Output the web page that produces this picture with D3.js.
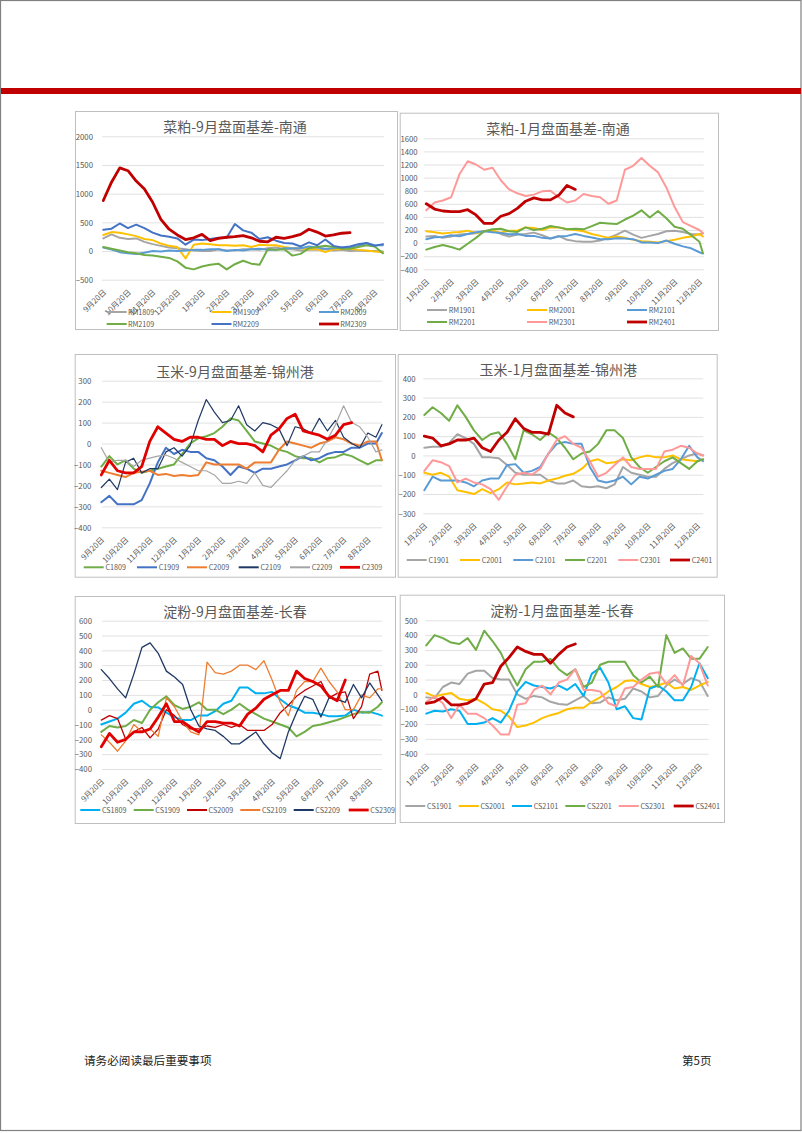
<!DOCTYPE html>
<html><head><meta charset="utf-8">
<script src="https://cdn.jsdelivr.net/npm/d3@7"></script>
<style>
body{margin:0;background:#fff}
svg{display:block}
text{font-family:"Noto Sans CJK SC","Noto Sans",sans-serif}
</style>
</head><body>
<svg id="page" width="802" height="1133"></svg>
<script>
// ---------- tick labels ----------
const ticksSep = ["9月20日","10月20日","11月20日","12月20日","1月20日","2月20日","3月20日","4月20日","5月20日","6月20日","7月20日","8月20日"];
const ticksJan = ["1月20日","2月20日","3月20日","4月20日","5月20日","6月20日","7月20日","8月20日","9月20日","10月20日","11月20日","12月20日"];

// ---------- data (one value every ~10 days) ----------
// 菜粕-9月盘面基差-南通
const RM1809 = [220,290,230,210,220,160,120,90,60,50,30,10,0,0,30,10,10,30,30,20,50,60,30,30,10,20,20,30,10,20,0,10,0,0,-10];
const RM1909 = [280,330,320,290,260,210,190,130,90,70,-130,110,130,120,100,100,90,100,70,110,100,100,70,50,50,30,30,-20,30,30,40,20,10,-10,-20];
const RM2009 = [60,25,-20,-40,-50,-30,0,-10,10,0,10,20,20,30,30,0,20,10,30,40,20,20,50,50,50,80,60,40,50,60,60,90,140,100,100];
const RM2109 = [70,40,10,-20,-40,-70,-80,-100,-120,-180,-290,-320,-270,-240,-220,-320,-230,-170,-220,-240,30,20,30,-80,-50,50,70,90,70,40,40,70,100,80,-40];
const RM2209 = [370,390,480,400,460,400,320,270,250,220,110,200,190,210,230,230,470,360,320,210,240,180,140,130,80,150,100,200,90,60,80,120,140,90,120];
const RM2309 = [880,1200,1450,1400,1220,1080,850,550,380,280,200,230,290,180,220,240,250,270,230,170,160,240,220,250,290,380,330,260,280,310,320];
// 菜粕-1月盘面基差-南通
const RM1901 = [100,110,80,100,130,140,150,180,190,140,100,130,140,160,120,70,110,50,30,20,20,40,80,130,190,130,80,110,140,180,190,170,140,130,150];
const RM2001 = [180,165,145,160,170,190,155,185,190,160,190,190,240,230,200,240,240,210,200,180,140,110,80,100,80,50,30,20,10,30,50,80,100,140,100];
const RM2101 = [60,90,95,120,105,140,165,180,165,155,135,140,110,110,80,70,100,110,140,110,85,60,60,75,70,60,10,10,0,40,-10,-50,-80,-140,-160];
const RM2201 = [-100,-60,-30,-60,-100,-10,80,180,210,220,180,170,240,200,220,260,240,210,220,210,260,310,300,290,360,420,500,390,490,380,250,220,120,20,-150];
const RM2301 = [500,620,650,700,1050,1250,1200,1120,1150,960,820,760,720,740,790,800,700,620,650,750,720,700,600,650,1120,1180,1300,1180,1080,850,550,320,260,200,150];
const RM2401 = [600,520,490,480,480,510,430,300,300,410,450,530,640,690,660,660,730,880,820];
// 玉米-9月盘面基差-锦州港
const C1809 = [-110,-60,-100,-80,-120,-140,-130,-120,-110,-100,-50,0,25,35,50,80,120,110,60,10,0,-10,-30,-40,-60,-70,-70,-90,-70,-65,-50,-60,-80,-100,-80,-80];
const C1909 = [-280,-250,-290,-290,-290,-270,-190,-90,-20,-50,-30,-40,-40,-70,-80,-110,-150,-110,-120,-140,-120,-120,-110,-100,-80,-60,-80,-70,-50,-40,-40,-20,-20,0,0,50];
const C2009 = [-130,-140,-150,-160,-140,-135,-130,-150,-145,-155,-150,-155,-150,-90,-100,-100,-100,-100,-120,-90,-90,-90,-30,10,0,-10,-20,0,10,30,20,0,-10,10,10,-80];
const C2109 = [-210,-170,-220,-90,-70,-140,-120,-120,-40,-20,-60,-10,110,210,150,100,110,180,90,60,100,90,70,-10,80,70,50,120,60,110,30,0,-20,50,30,90];
const C2209 = [-20,-90,-80,-80,-110,-80,-70,-60,-55,-70,-90,-110,-130,-130,-150,-190,-190,-180,-190,-140,-200,-210,-170,-130,-80,-60,-40,-40,20,90,180,100,80,30,-40,-30];
const C2309 = [-150,-80,-130,-140,-140,-110,10,80,50,20,10,30,30,20,20,-10,10,0,0,-10,-40,40,70,120,140,60,50,40,20,40,90,100];
// 玉米-1月盘面基差-锦州港
const C1901 = [40,45,45,65,110,90,60,-10,-10,-15,-50,-90,-100,-100,-100,-130,-145,-145,-130,-160,-165,-160,-170,-150,-60,-90,-100,-110,-110,-70,-40,-20,0,10,0];
const C2001 = [-90,-100,-90,-110,-180,-190,-200,-175,-195,-175,-140,-150,-145,-140,-145,-130,-120,-105,-95,-70,-30,-20,-40,-35,-20,-25,-10,0,-10,-10,0,-20,-25,-30,-20];
const C2101 = [-180,-110,-130,-130,-130,-140,-160,-130,-120,-120,-50,-45,-90,-80,-60,10,60,70,60,60,-60,-130,-140,-130,-110,-150,-110,-120,-100,-80,-70,-20,50,-10,-30];
const C2201 = [210,250,220,180,260,200,130,80,110,120,60,-20,130,110,80,120,90,40,-20,10,20,60,130,130,90,-10,-60,-90,-60,-30,-10,-40,-70,-30,-20];
const C2301 = [-80,-25,-35,-55,-140,-120,-140,-150,-175,-230,-160,-100,-90,-100,-70,10,80,100,60,40,-30,-110,-90,-50,-10,-60,-70,-70,-70,20,30,50,40,10,0];
const C2401 = [100,90,50,60,80,80,90,40,20,80,120,190,140,120,120,110,260,220,200];
// 淀粉-9月盘面基差-长春
const CS1809 = [-100,-80,-60,-20,40,60,20,15,-20,-50,-70,-70,-40,-40,-10,40,60,150,150,110,110,120,70,30,10,-20,-20,-30,-45,-45,-40,0,-20,-15,-30,-40];
const CS1909 = [-150,-110,-120,-110,-70,-90,0,50,90,30,5,20,50,0,0,-30,0,40,0,-30,-60,-80,-100,-120,-180,-150,-110,-100,-85,-70,-50,-30,-15,-20,20,50];
const CS2009 = [-70,-40,-60,-200,-150,-120,-190,-130,0,-40,-100,-130,-130,-110,-120,-100,-120,-100,-140,-140,-140,-100,-20,30,90,130,160,190,80,110,120,-60,20,240,260,130];
const CS2109 = [-170,-220,-280,-210,-100,-150,-130,-180,80,20,-80,-150,-170,320,250,240,260,300,300,270,330,200,50,-40,130,190,190,280,190,120,0,0,100,80,140,140];
const CS2209 = [270,210,140,80,240,420,450,380,260,220,170,0,-110,-130,-140,-180,-230,-230,-190,-150,-230,-290,-330,-150,-20,90,70,-50,80,70,50,170,80,180,100,60];
const CS2309 = [-250,-160,-220,-200,-150,-150,-130,-50,40,-80,-80,-120,-150,-80,-80,-90,-90,-110,-30,10,70,100,130,130,260,210,190,160,90,60,200];
// 淀粉-1月盘面基差-长春
const CS1901 = [-20,-25,50,80,70,140,160,160,110,100,100,0,-30,-10,-20,-50,-65,-70,-40,-10,-60,-55,-20,-40,-30,40,20,-20,-10,60,100,70,110,90,-10];
const CS2001 = [10,-15,0,10,-30,-40,-30,-60,-100,-110,-150,-220,-210,-190,-160,-140,-125,-100,-90,-90,-50,-20,20,50,90,95,70,50,60,80,40,50,30,60,85];
const CS2101 = [-130,-110,-115,-100,-110,-200,-200,-190,-160,-190,-110,20,85,60,50,40,60,30,70,-10,140,180,80,-100,-80,-160,-170,40,60,20,-40,-40,50,210,110];
const CS2201 = [330,400,380,350,340,380,300,430,360,280,160,60,170,220,220,240,170,130,170,50,80,200,220,220,220,130,80,120,50,400,280,310,240,240,320];
const CS2301 = [-50,-15,-60,-160,-70,-130,-130,-160,-210,-270,-270,-70,-60,30,60,0,80,100,170,30,30,20,-60,-80,40,50,100,140,150,70,130,60,260,210,60];
const CS2401 = [-60,-50,-20,-70,-70,-60,-30,70,80,190,250,320,290,270,270,210,270,320,340];

// ---------- chart layouts ----------
const GRAY="#A5A5A5", YEL="#FFC000", LBLUE="#5B9BD5", GREEN="#70AD47", BLUE="#4472C4", DRED="#C00000",
      PINK="#FF9999", ORANGE="#ED7D31", NAVY="#203864", CYAN="#00B0F0", RED="#E00000";

const charts = [
 {title:"菜粕-9月盘面基差-南通", box:[75,111,397,329], tx:235, ty:127, yd:[-500,2000], step:500, yr:[279.7,136.3],
  x0:103.3, mw:24.67, gx:[102,384], endM:11.38, lr:93, ticks:ticksSep,
  series:[["RM1809",RM1809,GRAY,2],["RM1909",RM1909,YEL,2],["RM2009",RM2009,LBLUE,2],["RM2109",RM2109,GREEN,2],["RM2209",RM2209,BLUE,2],["RM2309",RM2309,DRED,2.8]],
  leg:[[106.7,312],[211.5,312],[319,312],[106.7,324],[211.5,324],[319,324]], legText:1.2},
 {title:"菜粕-1月盘面基差-南通", box:[399.7,112.7,718,330], tx:558, ty:129, yd:[-400,1600], step:200, yr:[269.3,138.3],
  x0:426.3, mw:24.83, gx:[423.7,703.7], endM:11.14, lr:417.7, ticks:ticksJan,
  series:[["RM1901",RM1901,GRAY,2],["RM2001",RM2001,YEL,2],["RM2101",RM2101,LBLUE,2],["RM2201",RM2201,GREEN,2],["RM2301",RM2301,PINK,2],["RM2401",RM2401,DRED,2.8]],
  leg:[[427,310],[527,310],[627,310],[427,322],[527,322],[627,322]], legText:1.8},
 {title:"玉米-9月盘面基差-锦州港", box:[74.7,354,395,576.7], tx:235, ty:371.7, yd:[-400,300], step:100, yr:[527.3,380.7],
  x0:101.3, mw:24.23, gx:[102,382], endM:11.58, lr:91.3, ticks:ticksSep,
  series:[["C1809",C1809,GREEN,2],["C1909",C1909,BLUE,2],["C2009",C2009,ORANGE,2],["C2109",C2109,NAVY,1.2],["C2209",C2209,GRAY,1.2],["C2309",C2309,RED,2.8]],
  leg:[[83.7,567.3],[137,567.3],[187,567.3],[238.7,567.3],[290,567.3],[340,567.3]], legText:1.7},
 {title:"玉米-1月盘面基差-锦州港", box:[397.7,354,716.7,576.7], tx:558.3, ty:370, yd:[-300,400], step:100, yr:[513.3,378.3],
  x0:424.3, mw:24.83, gx:[423.3,703.3], endM:11.23, lr:415.7, ticks:ticksJan,
  series:[["C1901",C1901,GRAY,2],["C2001",C2001,YEL,2],["C2101",C2101,LBLUE,2],["C2201",C2201,GREEN,2],["C2301",C2301,PINK,2],["C2401",C2401,DRED,2.8]],
  leg:[[406.7,560],[460,560],[513.3,560],[565,560],[618.3,560],[670,560]], legText:1.7},
 {title:"淀粉-9月盘面基差-长春", box:[74.7,596,395,823], tx:235, ty:611.7, yd:[-400,600], step:100, yr:[769,620.7],
  x0:101.3, mw:24.4, gx:[102,382], endM:11.5, lr:92, ticks:ticksSep,
  series:[["CS1809",CS1809,CYAN,2],["CS1909",CS1909,GREEN,2],["CS2009",CS2009,DRED,1.3],["CS2109",CS2109,ORANGE,1.3],["CS2209",CS2209,NAVY,1.3],["CS2309",CS2309,RED,2.8]],
  leg:[[80.3,810],[133.7,810],[187,810],[240.3,810],[293.7,810],[348.7,810]], legText:1.6},
 {title:"淀粉-1月盘面基差-长春", box:[399.7,594.7,724,822], tx:562, ty:611.3, yd:[-400,500], step:100, yr:[753.7,620.3],
  x0:426.3, mw:24.83, gx:[425.3,708.7], endM:11.37, lr:417.7, ticks:ticksJan,
  series:[["CS1901",CS1901,GRAY,2],["CS2001",CS2001,YEL,2],["CS2101",CS2101,CYAN,2],["CS2201",CS2201,GREEN,2],["CS2301",CS2301,PINK,2],["CS2401",CS2401,DRED,2.8]],
  leg:[[405.3,806],[458.7,806],[512,806],[565.3,806],[618.7,806],[673.7,806]], legText:1.7}
];

const svg = d3.select("#page");
const TXT = "#595959";

// page frame, header band
svg.append("rect").attr("x",0.5).attr("y",0.5).attr("width",800.5).attr("height",1130)
   .attr("fill","none").attr("stroke","#808080").attr("stroke-width",1.2);
svg.append("rect").attr("x",1).attr("y",88).attr("width",800).attr("height",6).attr("fill","#C00000");

charts.forEach(c=>{
  const g = svg.append("g");
  const [bx0,by0,bx1,by1] = c.box;
  g.append("rect").attr("x",bx0+0.5).attr("y",by0+0.5).attr("width",bx1-bx0).attr("height",by1-by0)
   .attr("fill","#fff").attr("stroke","#bfbfbf").attr("stroke-width",1);

  const y = d3.scaleLinear().domain(c.yd).range(c.yr);
  const x = d3.scaleLinear().domain([0,11]).range([c.x0, c.x0 + 11*c.mw]);
  const tv = d3.range(c.yd[0], c.yd[1]+1, c.step);

  // gridlines
  g.append("g").attr("transform",`translate(${c.gx[0]},0)`)
   .call(d3.axisLeft(y).tickValues(tv).tickSize(-(c.gx[1]-c.gx[0])).tickFormat(""))
   .call(s=>s.select(".domain").remove())
   .selectAll("line").attr("stroke","#d9d9d9").attr("stroke-width",0.8);

  // y labels
  g.append("g").attr("transform",`translate(${c.lr},0)`)
   .call(d3.axisLeft(y).tickValues(tv).tickSize(0).tickPadding(0).tickFormat(d3.format("d")))
   .call(s=>s.select(".domain").remove())
   .call(s=>s.attr("font-family",null).attr("font-size",null))
   .selectAll("text").attr("fill",TXT).style("font-size","7.8px").attr("dy","0.35em");

  // x labels
  const yb = c.yr[0];
  g.append("g").attr("transform",`translate(0,${yb})`)
   .call(d3.axisBottom(x).tickValues(d3.range(12)).tickSize(0).tickFormat(i=>c.ticks[i]))
   .call(s=>s.select(".domain").remove())
   .call(s=>s.attr("font-family",null).attr("font-size",null))
   .selectAll("text").attr("fill",TXT).style("font-size","7.8px")
   .attr("x",1).attr("y",11).attr("dy","0.35em").attr("text-anchor","end")
   .attr("transform","rotate(-45,1,11)");

  // title
  g.append("text").attr("x",c.tx).attr("y",c.ty).attr("dy","0.36em").attr("text-anchor","middle")
   .attr("fill",TXT).style("font-size","14px").text(c.title);

  // series
  const line = d3.line().x((d,i)=>x(Math.min(i/3, c.endM))).y(d=>y(d)).curve(d3.curveLinear);
  c.series.forEach(([name,data,col,w])=>{
    g.append("path").datum(data).attr("d",line).attr("fill","none")
     .attr("stroke",col).attr("stroke-width",w).attr("stroke-linejoin","round").attr("stroke-linecap","round");
  });

  // legend
  c.series.forEach(([name,data,col,w],k)=>{
    const [lx,ly] = c.leg[k];
    g.append("line").attr("x1",lx).attr("x2",lx+20).attr("y1",ly).attr("y2",ly)
     .attr("stroke",col).attr("stroke-width",Math.max(w,2));
    g.append("text").attr("x",lx+20+c.legText).attr("y",ly).attr("dy","0.35em")
     .attr("fill",TXT).style("font-size","7.2px").text(name);
  });
});

// footer
svg.append("text").attr("x",84).attr("y",1061).attr("dy","0.36em").attr("fill","#222")
   .style("font-size","11.6px").text("请务必阅读最后重要事项");
svg.append("text").attr("x",682).attr("y",1061).attr("dy","0.36em").attr("fill","#222")
   .style("font-size","11.6px").text("第5页");
</script>
</body></html>
